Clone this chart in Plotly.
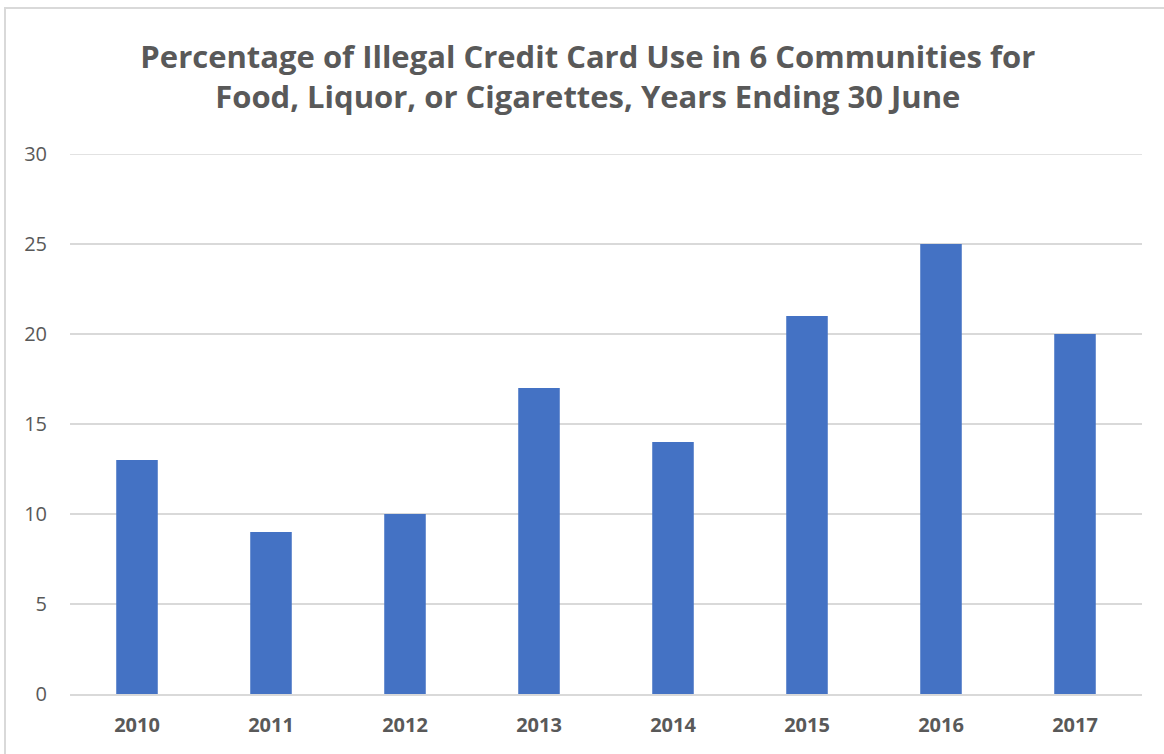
import plotly.graph_objects as go

years = ["2010", "2011", "2012", "2013", "2014", "2015", "2016", "2017"]
values = [13, 9, 10, 17, 14, 21, 25, 20]
y_ticks = [0, 5, 10, 15, 20, 25, 30]

W, H = 1164, 754
ml, mr, mt, mb = 70, 22, 154, 60
pw, ph = W - ml - mr, H - mt - mb

def px_x(x):
    return (x - ml) / pw

def px_y(y):
    return (H - mb - y) / ph

fig = go.Figure(go.Bar(x=years, y=values, marker_color="#4472C4",
                       marker_line_width=0))

fig.add_shape(type="rect", xref="paper", yref="paper",
              x0=px_x(5), x1=px_x(1180), y0=px_y(770), y1=px_y(8),
              line=dict(color="#D9D9D9", width=2), fillcolor="rgba(0,0,0,0)",
              layer="below")
fig.add_shape(type="line", xref="paper", yref="y",
              x0=0, x1=1, y0=y_ticks[-1], y1=y_ticks[-1],
              line=dict(color="#D9D9D9", width=1.5), layer="below")

fig.update_layout(
    width=W, height=H,
    margin=dict(l=ml, r=mr, t=mt, b=mb),
    paper_bgcolor="white", plot_bgcolor="white",
    bargap=0.69,
    showlegend=False,
    title=dict(
        text="Percentage of Illegal Credit Card Use in 6 Communities for<br>Food, Liquor, or Cigarettes, Years Ending 30 June",
        x=0.505, xanchor="center", y=1 - 68 / H, yanchor="middle",
        font=dict(family="Open Sans", size=31, color="#595959", weight="bold"),
    ),
    font=dict(family="Open Sans", color="#595959"),
    xaxis=dict(
        showgrid=False, showline=True, linecolor="#D9D9D9", linewidth=1.5,
        tickfont=dict(size=20, color="#595959", weight="bold"),
        ticks="", ticklabelstandoff=12,
    ),
    yaxis=dict(
        range=[0, 30], tickvals=y_ticks, showgrid=True, gridcolor="#D9D9D9",
        gridwidth=1.5, zeroline=False, showline=False,
        tickfont=dict(size=20, color="#595959"), ticks="",
        ticklabelstandoff=22,
    ),
)

fig.write_html("out.html")
